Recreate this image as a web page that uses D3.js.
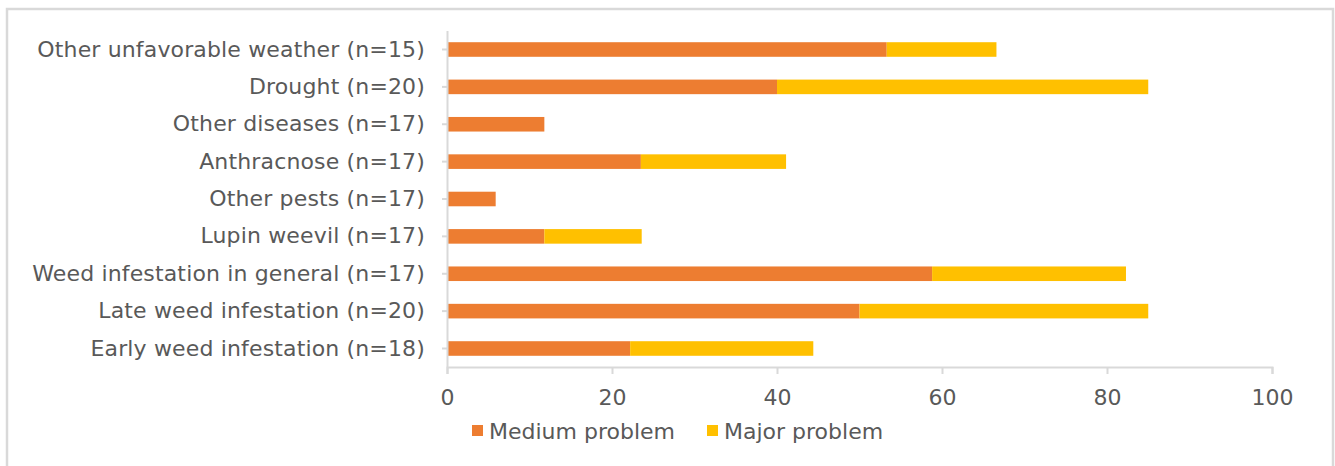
<!DOCTYPE html>
<html>
<head>
<meta charset="utf-8">
<script src="https://cdn.jsdelivr.net/npm/d3@7"></script>
<style>
  body { margin: 0; background: #fff; }
  text { font-family: "DejaVu Sans", Verdana, sans-serif; fill: #595959; }
</style>
</head>
<body>
<div id="chart"></div>
<script>
// categories top to bottom, values in percent of respondents
var categories = [
    "Other unfavorable weather (n=15)",
    "Drought (n=20)",
    "Other diseases (n=17)",
    "Anthracnose (n=17)",
    "Other pests (n=17)",
    "Lupin weevil (n=17)",
    "Weed infestation in general (n=17)",
    "Late weed infestation (n=20)",
    "Early weed infestation (n=18)"
];
var medium = [53.3, 40, 11.8, 23.5, 5.9, 11.8, 58.8, 50, 22.2];
var major = [13.3, 45, 0, 17.6, 0, 11.8, 23.5, 35, 22.2];
var seriesNames = ["Medium problem", "Major problem"];
var colors = ["#ED7D31", "#FFC000"];
var xTicks = [0, 20, 40, 60, 80, 100];

var svgWidth = 1335;
var svgHeight = 466;
var fontSize = "22px";

var margin = { top: 31, right: 63, bottom: 99, left: 447 };
var width = svgWidth - margin.left - margin.right;
var height = svgHeight - margin.top - margin.bottom;

var svg = d3.select("#chart")
    .append("svg")
    .attr("width", svgWidth)
    .attr("height", svgHeight);

// outer frame (bottom edge runs off the picture)
svg.append("rect")
    .attr("x", 7)
    .attr("y", 9)
    .attr("width", 1326)
    .attr("height", 480)
    .attr("fill", "none")
    .attr("stroke", "#d9d9d9")
    .attr("stroke-width", 2.5);

var chartGroup = svg.append("g")
    .attr("transform", `translate(${margin.left}, ${margin.top})`);

var xScale = d3.scaleLinear()
    .domain([0, 100])
    .range([0, width]);

var yScale = d3.scaleBand()
    .domain(categories)
    .range([0, height])
    .paddingInner(0.61)
    .paddingOuter(0.3);

// build stacked data
var rows = categories.map(function(c, i) {
    return { cat: c, medium: medium[i], major: major[i] };
});
var stacked = d3.stack().keys(["medium", "major"])(rows);

chartGroup.selectAll("g.series")
    .data(stacked)
    .enter()
    .append("g")
    .attr("class", "series")
    .attr("fill", (d, i) => colors[i])
    .selectAll("rect")
    .data(d => d)
    .enter()
    .append("rect")
    .attr("x", d => xScale(d[0]))
    .attr("width", d => xScale(d[1]) - xScale(d[0]))
    .attr("y", d => yScale(d.data.cat))
    .attr("height", yScale.bandwidth());

// x axis
var bottomAxis = d3.axisBottom(xScale)
    .tickValues(xTicks)
    .tickSize(7)
    .tickPadding(15);

var xAxis = chartGroup.append("g")
    .attr("transform", `translate(0, ${height})`)
    .call(bottomAxis);
xAxis.selectAll("path, line").attr("stroke", "#d9d9d9").attr("stroke-width", 2);
xAxis.select(".domain").attr("d", `M0.5,7V0.5H${width + 0.5}V7`);
xAxis.selectAll("text").style("font-size", fontSize).attr("fill", "#595959");

// y axis
var leftAxis = d3.axisLeft(yScale)
    .tickSize(5)
    .tickPadding(17)
    .tickSizeOuter(0);

var yAxis = chartGroup.append("g")
    .call(leftAxis);
yAxis.selectAll("path, line").attr("stroke", "#d9d9d9").attr("stroke-width", 2);
yAxis.select(".domain").attr("d", `M0.5,0V${height}`);
yAxis.selectAll("text")
    .style("font-size", fontSize)
    .style("letter-spacing", "0.15px")
    .attr("fill", "#595959");

// legend
var legend = svg.append("g")
    .attr("transform", "translate(472, 425)");

var legendX = [0, 235];
seriesNames.forEach(function(name, i) {
    var item = legend.append("g")
        .attr("transform", `translate(${legendX[i]}, 0)`);
    item.append("rect")
        .attr("width", 11)
        .attr("height", 11)
        .attr("fill", colors[i]);
    item.append("text")
        .attr("x", 17)
        .attr("y", 6)
        .attr("dy", "0.35em")
        .style("font-size", fontSize)
        .text(name);
});
</script>
</body>
</html>
